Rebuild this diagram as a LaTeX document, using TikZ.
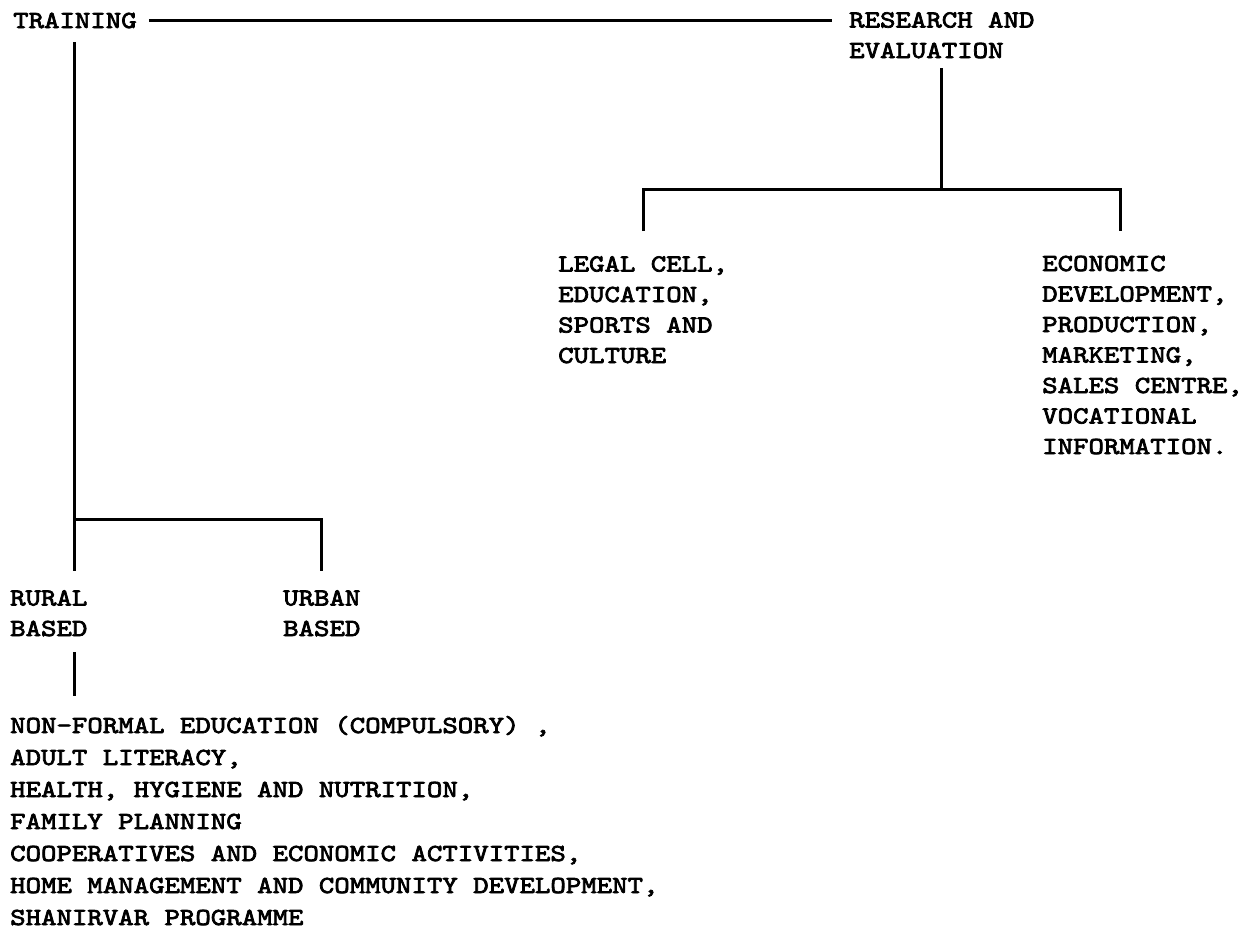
\documentclass[tikz,border=0pt]{standalone}
\usepackage{fontspec}
\newfontfamily\typewriter[FakeStretch=1.2,FakeBold=3]{lmmono10-regular.otf}
\usetikzlibrary{positioning,calc}
\tikzset{
	entry/.style={
		anchor=base west,
		inner sep=0pt,
		align=left,
		font=\typewriter\fontsize{24.5}{30.5}\selectfont
	},
	longlist/.style={
		entry,
		font=\typewriter\fontsize{24.5}{32}\selectfont
	},
	link/.style={
		draw=black,
		line width=3pt,
		line join=miter
	},
}

\begin{document}
\begin{tikzpicture}[x=1pt,y=-1pt]
			\useasboundingbox (0,0) rectangle (1257,929);
			% multi-line nodes sit on their last baseline
			\node[entry] (train) at (13,28) {TRAINING};
			\node[entry] (research) at (849,58) {RESEARCH AND\\EVALUATION};
			\node[entry] (legal) at (558,363) {LEGAL CELL,\\EDUCATION,\\SPORTS AND\\CULTURE};
			\node[entry] (econ) at (1042,454) {ECONOMIC\\DEVELOPMENT,\\PRODUCTION,\\MARKETING,\\SALES CENTRE,\\VOCATIONAL\\INFORMATION.};
			\node[entry] (rural) at (10,636) {RURAL\\BASED};
			\node[entry] (urban) at (283,636) {URBAN\\BASED};
			\node[longlist] (activities) at (10,925) {NON-FORMAL EDUCATION (COMPULSORY) ,\\ADULT LITERACY,\\HEALTH, HYGIENE AND NUTRITION,\\FAMILY PLANNING\\COOPERATIVES AND ECONOMIC ACTIVITIES,\\HOME MANAGEMENT AND COMMUNITY DEVELOPMENT,\\SHANIRVAR PROGRAMME};
			
			\coordinate (tsplit) at (train.south |- 0,519);
			\coordinate (rsplit) at (research.south |- 0,189);
			
			% top line
			\draw[link] ([xshift=12]train.east) -- ([xshift=-17]research.west |- train.east);
			% training branch
			\draw[link] ([yshift=-14]train.south) -- ($(train.south |- rural.north)+(0,-19)$);
			\draw[link] (tsplit) -- (tsplit -| urban.north) -- ([yshift=19]urban.north);
			\draw[link] ($(rural.south -| train.south)+(0,16)$) -- ($(activities.north -| train.south)+(0,-20)$);
			% research branch
			\draw[link] ([yshift=-10]research.south) -- (rsplit);
			\draw[link] ([yshift=25]legal.north) |- (rsplit) -| ([xshift=78,yshift=25]econ.north west);
\end{tikzpicture}
\end{document}
